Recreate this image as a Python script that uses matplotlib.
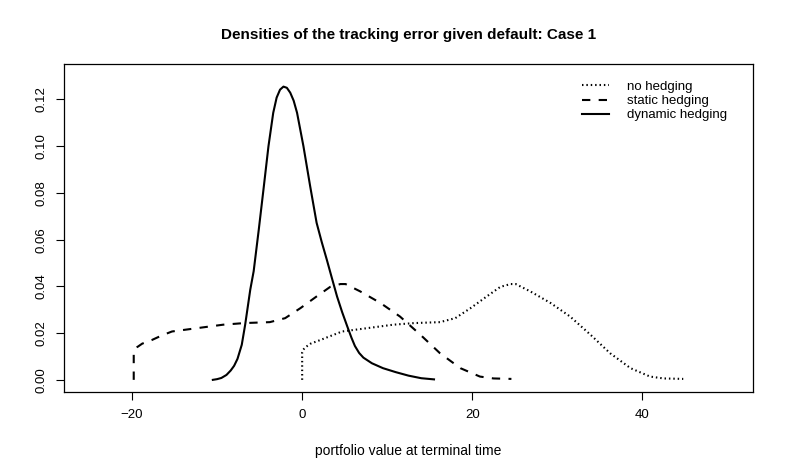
import matplotlib.pyplot as plt

plt.rcParams['font.family'] = ['Liberation Sans', 'DejaVu Sans']

# densities (x = portfolio value, y = density)
no_hedge_x = [0.0, 0.0, 0.1, 0.4, 1.0, 2.1, 3.5, 4.7, 7.6, 10.7, 13.2, 16.2, 18.0, 19.8,
              21.7, 23.3, 24.5, 25.1, 26.8, 29.2, 31.5, 33.9, 36.2, 38.6, 40.9, 42.5, 44.8]
no_hedge_y = [0.0, 0.0118, 0.0128, 0.0140, 0.0155, 0.017, 0.0190, 0.0207, 0.0221, 0.0236,
              0.0243, 0.0247, 0.0264, 0.0307, 0.0357, 0.0398, 0.0410, 0.0410, 0.0379,
              0.0329, 0.0271, 0.0193, 0.0114, 0.0050, 0.0014, 0.0006, 0.0004]

static_x = [-19.8, -19.8, -19.7, -19.4, -18.8, -17.7, -16.5, -15.3, -12.4, -9.3, -6.8, -3.8,
            -2.0, -0.2, 1.7, 3.3, 4.5, 5.1, 6.8, 9.2, 11.5, 13.9, 16.2, 18.6, 20.9, 22.5, 24.6]
static_y = [0.0, 0.0118, 0.0128, 0.0140, 0.0155, 0.017, 0.0190, 0.0207, 0.0221, 0.0236,
            0.0243, 0.0247, 0.0264, 0.0307, 0.0357, 0.0398, 0.0410, 0.0410, 0.0379, 0.0329,
            0.0271, 0.0193, 0.0114, 0.0050, 0.0014, 0.0006, 0.0004]

dynamic_x = [-10.5, -10.0, -9.5, -8.9, -8.4, -8.0, -7.6, -7.1, -6.7, -6.1, -5.7, -5.1,
             -4.55, -3.96, -3.4, -3.0, -2.6, -2.2, -1.8, -1.4, -1.0, -0.6, 0.15, 0.94,
             1.7, 2.3, 2.9, 3.5, 4.1, 4.7, 5.3, 5.8, 6.2, 6.7, 7.2, 8.2, 9.5, 11.0,
             12.5, 14.0, 15.5]
dynamic_y = [0.0, 0.0003, 0.0008, 0.0021, 0.0040, 0.0060, 0.0090, 0.0150, 0.0236, 0.0386,
             0.0465, 0.0643, 0.0814, 0.1000, 0.1143, 0.1208, 0.1242, 0.1255, 0.1250,
             0.1229, 0.1195, 0.1143, 0.1000, 0.0829, 0.0672, 0.0590, 0.0514, 0.0435,
             0.0357, 0.0290, 0.0229, 0.0180, 0.0145, 0.0115, 0.0095, 0.0071, 0.0050,
             0.0033, 0.0018, 0.0007, 0.0002]

series_labels = ['no hedging', 'static hedging', 'dynamic hedging']
x_ticks = [-20, 0, 20, 40]
y_ticks = [0.00, 0.02, 0.04, 0.06, 0.08, 0.10, 0.12]

fig = plt.figure(figsize=(7.86, 4.72), dpi=100)
ax = fig.add_axes([0.0814, 0.1695, 0.8766, 0.695])

ax.plot(no_hedge_x, no_hedge_y, color='black', lw=1.5, linestyle=(0, (0.7, 1.4)),
        label=series_labels[0])
ax.plot(static_x, static_y, color='black', lw=1.5, linestyle=(0, (4, 4)),
        label=series_labels[1])
ax.plot(dynamic_x, dynamic_y, color='black', lw=1.5, linestyle='-',
        label=series_labels[2])

# R style axes: limits padded by 4 %
ax.set_xlim(-28, 53)
ax.set_ylim(-0.0052, 0.1352)
ax.set_xticks(x_ticks)
ax.set_xticklabels([str(t).replace('-', '\u2212') for t in x_ticks])
ax.set_yticks(y_ticks)
ax.set_yticklabels(['%.2f' % t for t in y_ticks], rotation=90, va='center')
ax.tick_params(direction='out', length=6, width=0.8, labelsize=9.5, pad=6)
for s in ax.spines.values():
    s.set_linewidth(0.9)

ax.set_title('Densities of the tracking error given default: Case 1',
             fontsize=11, fontweight='bold', pad=18)
ax.set_xlabel('portfolio value at terminal time', fontsize=10, labelpad=17)

ax.legend(loc='upper right', bbox_to_anchor=(0.98, 0.985), frameon=False,
          fontsize=9.5, handlelength=2.0, handletextpad=1.4, labelspacing=0.15)

fig.savefig('out.png', dpi=100)
